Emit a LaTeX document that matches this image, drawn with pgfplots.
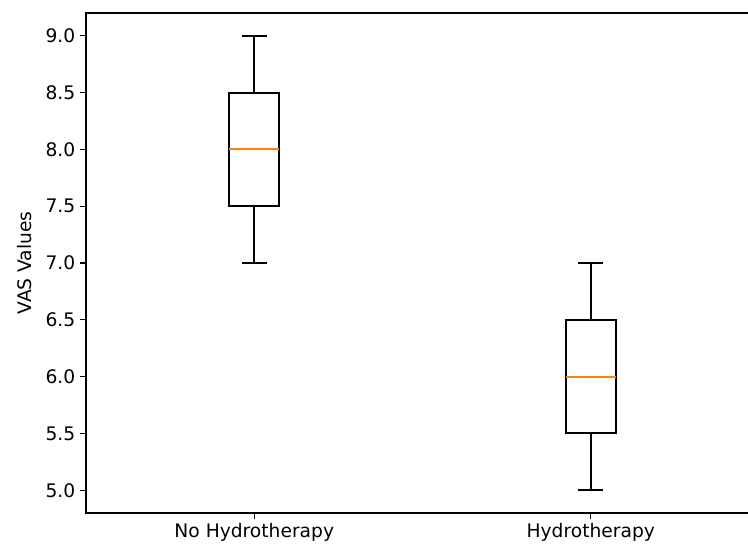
\documentclass[border=0pt]{standalone}
\usepackage{pgfplots}
\pgfplotsset{compat=1.18}
\usepackage{fontspec}
\setmainfont{DejaVu Sans}
\definecolor{mplorange}{HTML}{FF7F0E}
\begin{document}
\begin{tikzpicture}
\begin{axis}[name=ax, scale only axis, width=504.75pt, height=375pt,
  xmin=0.5, xmax=2.5, ymin=4.8, ymax=9.2,
  xtick={1,2}, xticklabels={No Hydrotherapy, Hydrotherapy},
  ytick={5,5.5,6,6.5,7,7.5,8,8.5,9},
  /pgf/number format/assume math mode=true,
  yticklabel style={/pgf/number format/fixed, /pgf/number format/fixed zerofill, /pgf/number format/precision=1},
  tick label style={font=\fontsize{14}{16}\selectfont},
  label style={font=\fontsize{14}{16}\selectfont},
  tick align=outside, tick pos=left, major tick length=4.5pt,
  tick style={black, line width=0.8pt},
  axis line style={line width=0.8pt},
  ylabel={VAS Values},
  ylabel style={at={(axis description cs:-0.0906,0.5)}, anchor=center},
  bx/.style={black, line width=1.5pt, line join=miter, mark=none},
  md/.style={mplorange, line width=1.5pt, mark=none},
]
% Group 1: No Hydrotherapy (whiskers 7 / 9, quartiles 7.5 / 8.5, median 8)
\addplot[bx] coordinates {(0.925,7.5) (1.075,7.5) (1.075,8.5) (0.925,8.5) (0.925,7.5) (1.075,7.5)};
\addplot[bx] coordinates {(1,7.5) (1,7)};
\addplot[bx] coordinates {(1,8.5) (1,9)};
\addplot[bx] coordinates {(0.9625,7) (1.0375,7)};
\addplot[bx] coordinates {(0.9625,9) (1.0375,9)};
\addplot[md] coordinates {(0.925,8) (1.075,8)};
% Group 2: Hydrotherapy (whiskers 5 / 7, quartiles 5.5 / 6.5, median 6)
\addplot[bx] coordinates {(1.925,5.5) (2.075,5.5) (2.075,6.5) (1.925,6.5) (1.925,5.5) (2.075,5.5)};
\addplot[bx] coordinates {(2,5.5) (2,5)};
\addplot[bx] coordinates {(2,6.5) (2,7)};
\addplot[bx] coordinates {(1.9625,5) (2.0375,5)};
\addplot[bx] coordinates {(1.9625,7) (2.0375,7)};
\addplot[md] coordinates {(1.925,6) (2.075,6)};
\end{axis}
\pgfresetboundingbox
\path ([shift={(-64.5pt,-29.25pt)}]ax.south west) rectangle ([shift={(-8.25pt,9.75pt)}]ax.north east);
\end{tikzpicture}
\end{document}
